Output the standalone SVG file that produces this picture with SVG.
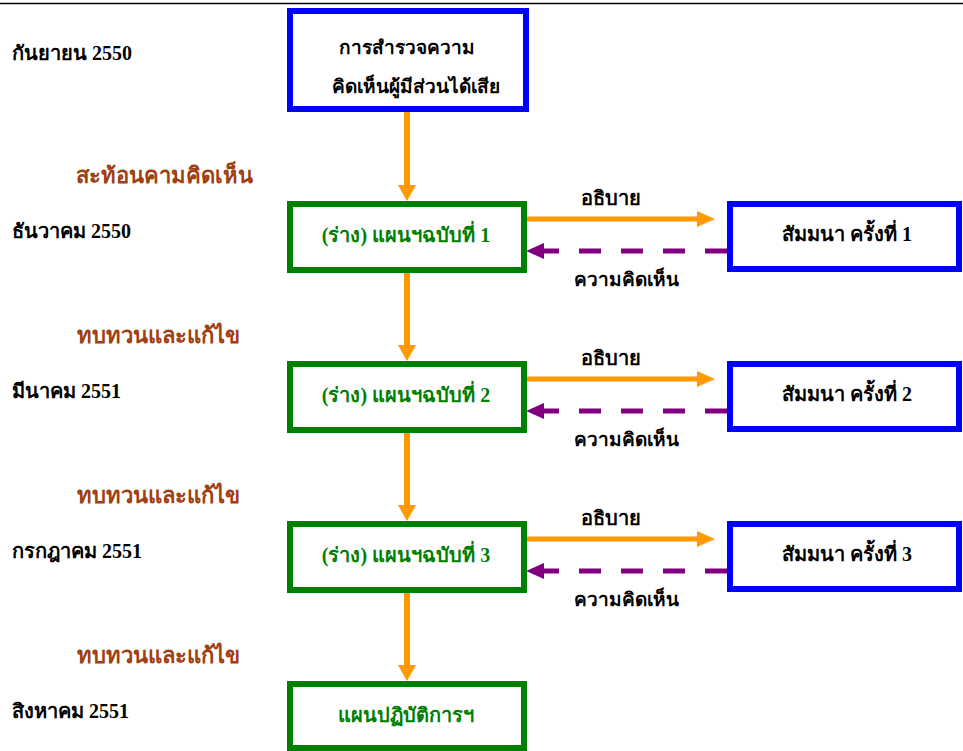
<svg xmlns="http://www.w3.org/2000/svg" width="963" height="751" viewBox="0 0 963 751">
<style>
text{font-family:"Liberation Serif","DejaVu Serif",serif;font-weight:bold;font-size:20px}
.c{text-anchor:middle}
.blk{fill:#000}
.grn{fill:#008000}
.brn{fill:#A04010;font-size:22px}
.s19{font-size:19px}
.bbox{fill:#fff;stroke:#0000FF;stroke-width:6}
.gbox{fill:#fff;stroke:#008000;stroke-width:6}
.or{stroke:#FF9900;stroke-width:6;fill:none}
.orh{stroke:#FF9900;stroke-width:5;fill:none}
.pu{stroke:#800080;stroke-width:5;fill:none;stroke-dasharray:22 20}
.ohead{fill:#FF9900}
.phead{fill:#800080}
</style>
<rect width="963" height="751" fill="#fff"/>
<line x1="0" y1="3.5" x2="963" y2="3.5" stroke="#000" stroke-width="1.5"/>
<g id="labels-left">
<text class="blk" x="12" y="60">กันยายน 2550</text>
<text class="brn c" x="164" y="183">สะท้อนคามคิดเห็น</text>
<text class="blk" x="12" y="238">ธันวาคม 2550</text>
<text class="brn c" x="158" y="343">ทบทวนและแก้ไข</text>
<text class="blk" x="12" y="398">มีนาคม 2551</text>
<text class="brn c" x="158" y="503">ทบทวนและแก้ไข</text>
<text class="blk" x="12" y="558">กรกฎาคม 2551</text>
<text class="brn c" x="158" y="663">ทบทวนและแก้ไข</text>
<text class="blk" x="12" y="718">สิงหาคม 2551</text>
</g>
<g id="connectors">
<line class="or" x1="407" y1="112" x2="407" y2="186"/>
<polygon class="ohead" points="398,185 416,185 407,201"/>
<line class="or" x1="407" y1="273" x2="407" y2="346"/>
<polygon class="ohead" points="398,345 416,345 407,361"/>
<line class="or" x1="407" y1="433" x2="407" y2="506"/>
<polygon class="ohead" points="398,505 416,505 407,521"/>
<line class="or" x1="407" y1="593" x2="407" y2="666"/>
<polygon class="ohead" points="398,665 416,665 407,681"/>
<line class="orh" x1="527" y1="219" x2="699" y2="219"/>
<polygon class="ohead" points="697,211 697,227 715,219"/>
<line class="orh" x1="527" y1="379" x2="699" y2="379"/>
<polygon class="ohead" points="697,371 697,387 715,379"/>
<line class="orh" x1="527" y1="539" x2="699" y2="539"/>
<polygon class="ohead" points="697,531 697,547 715,539"/>
<line class="pu" x1="727" y1="251" x2="542" y2="251"/>
<polygon class="phead" points="544,243 544,259 526,251"/>
<line class="pu" x1="727" y1="411" x2="542" y2="411"/>
<polygon class="phead" points="544,403 544,419 526,411"/>
<line class="pu" x1="727" y1="571" x2="542" y2="571"/>
<polygon class="phead" points="544,563 544,579 526,571"/>
<text class="blk c" x="611" y="205">อธิบาย</text>
<text class="blk c s19" x="626" y="286">ความคิดเห็น</text>
<text class="blk c" x="611" y="365">อธิบาย</text>
<text class="blk c s19" x="626" y="446">ความคิดเห็น</text>
<text class="blk c" x="611" y="525">อธิบาย</text>
<text class="blk c s19" x="626" y="606">ความคิดเห็น</text>
</g>
<g id="survey">
<rect class="bbox" x="290" y="11" width="236" height="98"/>
<text class="blk c s19" x="407" y="54">การสำรวจความ</text>
<text class="blk c s19" x="416" y="93">คิดเห็นผู้มีส่วนได้เสีย</text>
</g>
<g id="draft1">
<rect class="gbox" x="290" y="204" width="234" height="66"/>
<text class="grn c" x="406" y="242">(ร่าง) แผนฯฉบับที่ 1</text>
</g>
<g id="draft2">
<rect class="gbox" x="290" y="364" width="234" height="66"/>
<text class="grn c" x="406" y="402">(ร่าง) แผนฯฉบับที่ 2</text>
</g>
<g id="draft3">
<rect class="gbox" x="290" y="524" width="234" height="66"/>
<text class="grn c" x="406" y="562">(ร่าง) แผนฯฉบับที่ 3</text>
</g>
<g id="plan">
<rect class="gbox" x="290" y="684" width="234" height="64"/>
<text class="grn c" x="406" y="722">แผนปฏิบัติการฯ</text>
</g>
<g id="seminar1">
<rect class="bbox" x="730" y="204" width="229" height="65"/>
<text class="blk c" x="847" y="241">สัมมนา ครั้งที่ 1</text>
</g>
<g id="seminar2">
<rect class="bbox" x="730" y="364" width="229" height="65"/>
<text class="blk c" x="847" y="401">สัมมนา ครั้งที่ 2</text>
</g>
<g id="seminar3">
<rect class="bbox" x="730" y="524" width="229" height="65"/>
<text class="blk c" x="847" y="561">สัมมนา ครั้งที่ 3</text>
</g>
</svg>
